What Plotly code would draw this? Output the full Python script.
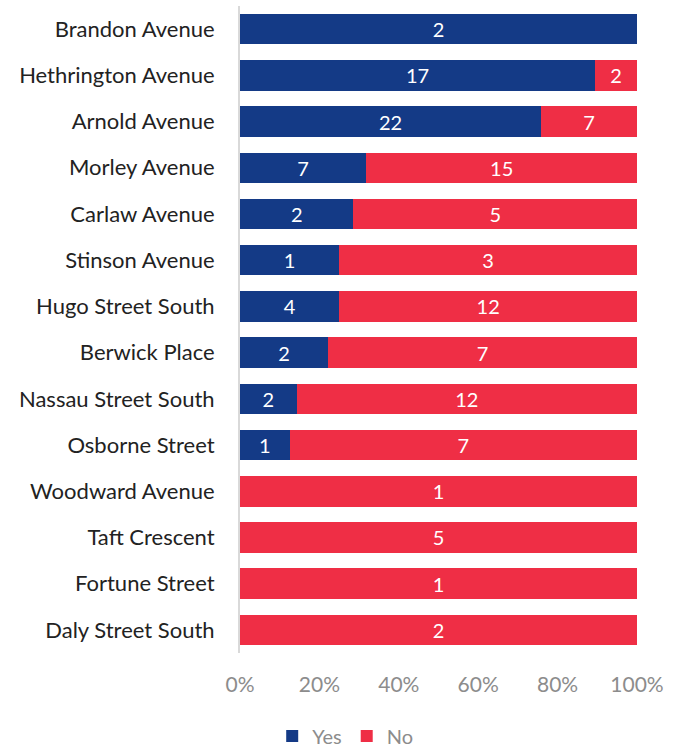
import plotly.graph_objects as go

streets = ["Brandon Avenue", "Hethrington Avenue", "Arnold Avenue", "Morley Avenue",
           "Carlaw Avenue", "Stinson Avenue", "Hugo Street South", "Berwick Place",
           "Nassau Street South", "Osborne Street", "Woodward Avenue", "Taft Crescent",
           "Fortune Street", "Daly Street South"]
yes_counts = [2, 17, 22, 7, 2, 1, 4, 2, 2, 1, 0, 0, 0, 0]
no_counts = [0, 2, 7, 15, 5, 3, 12, 7, 12, 7, 1, 5, 1, 2]
tick_vals = [0, 20, 40, 60, 80, 100]
tick_text = ["0%", "20%", "40%", "60%", "80%", "100%"]

totals = [y + n for y, n in zip(yes_counts, no_counts)]
yes_pct = [100 * y / t for y, t in zip(yes_counts, totals)]
no_pct = [100 * n / t for n, t in zip(no_counts, totals)]

FONT = "Lato"

fig = go.Figure()
for name, pct, counts, color in [("Yes", yes_pct, yes_counts, "#143a86"),
                                 ("No", no_pct, no_counts, "#ef2e45")]:
    fig.add_trace(go.Bar(
        name=name, y=streets, x=pct, orientation="h",
        marker=dict(color=color, line=dict(width=0)),
        text=[str(c) if c > 0 else "" for c in counts],
        textposition="inside", insidetextanchor="middle",
        textangle=0, constraintext="none",
        textfont=dict(color="white", size=20, family=FONT),
        hoverinfo="skip",
    ))

fig.update_layout(
    width=680, height=748,
    barmode="stack", bargap=0.34,
    plot_bgcolor="white", paper_bgcolor="white",
    margin=dict(l=240, r=43, t=6, b=95, autoexpand=False),
    font=dict(family=FONT, size=20, color="#222222"),
    uniformtext=dict(mode="show", minsize=10),
    xaxis=dict(range=[0, 100], tickvals=tick_vals, ticktext=tick_text,
               showgrid=False, zeroline=False, showline=False,
               tickfont=dict(size=21, color="#8c8c8c", family=FONT),
               ticks="", ticklabelstandoff=17, fixedrange=True),
    yaxis=dict(autorange="reversed", showgrid=False, zeroline=False,
               showline=True, linecolor="#d9d9d9", linewidth=2,
               ticks="", ticklabelstandoff=19,
               tickfont=dict(size=22, color="#222222", family=FONT)),
    legend=dict(orientation="h", x=0.265, xanchor="center",
                y=-0.098, yanchor="top",
                font=dict(size=20, color="#8c8c8c", family=FONT),
                itemwidth=30, traceorder="normal", itemclick=False),
    showlegend=True,
)

fig.write_html("out.html")
